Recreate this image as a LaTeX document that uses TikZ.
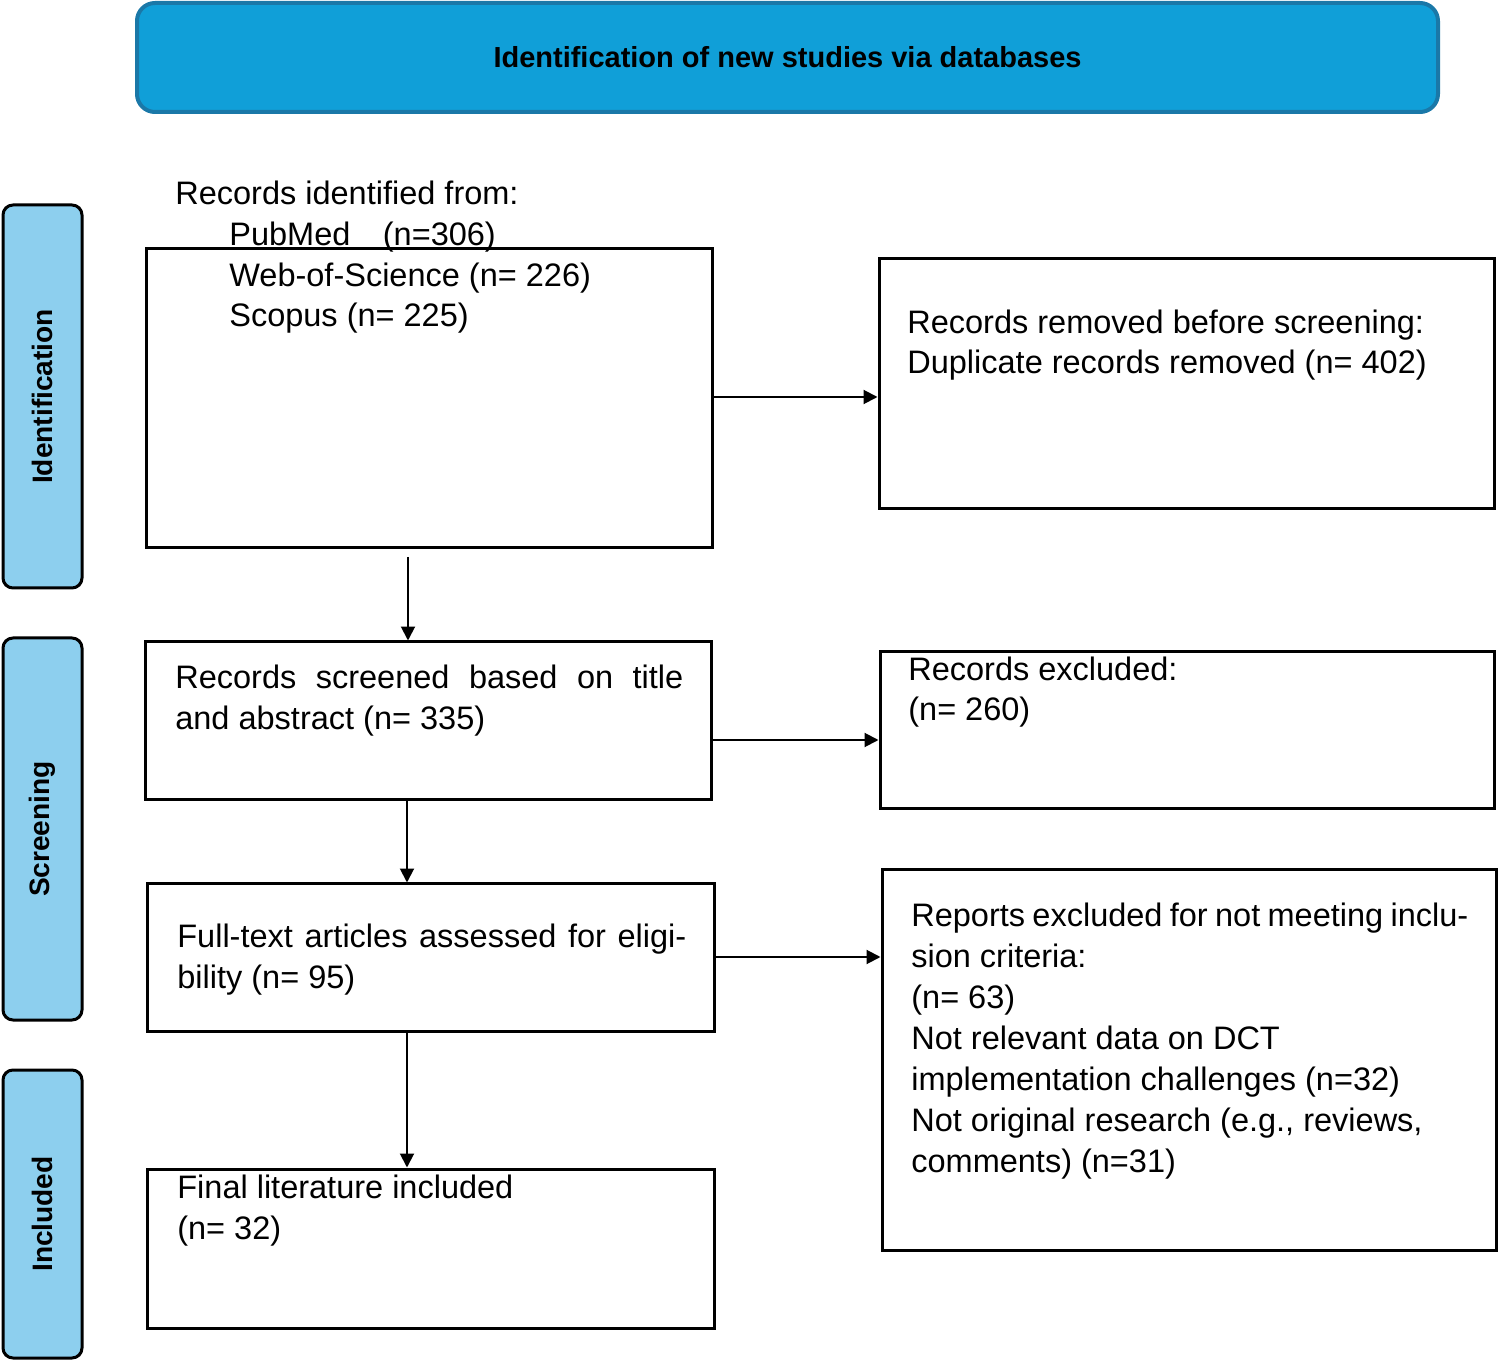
\documentclass[tikz,border=0pt]{standalone}
\usepackage{fontspec}
\setmainfont{Liberation Sans}
\usetikzlibrary{arrows.meta}
\newdimen\pxu \pxu=0.02cm
\definecolor{banner}{HTML}{109FD8}
\definecolor{bannerline}{HTML}{1A78A8}
\definecolor{side}{HTML}{8DCFEE}
\begin{document}
\begin{tikzpicture}[x=0.02cm,y=-0.02cm,
  box/.style={draw=black,line width=3\pxu,inner sep=0pt},
  txt/.style={anchor=base west,inner sep=0pt,font=\fontsize{18.5}{23.3}\selectfont},
  sidelab/.style={draw=black,fill=side,line width=3\pxu,rounded corners=10\pxu,minimum width=79\pxu,inner sep=0pt},
  sidetxt/.style={rotate=90,font=\fontsize{16}{19}\selectfont\bfseries},
  arr/.style={-{Triangle[length=0.28cm,width=0.28cm]},line width=0.04cm}]
\useasboundingbox (0,0) rectangle (1499,1361);
\node[draw=bannerline,fill=banner,line width=4\pxu,rounded corners=18\pxu,minimum width=1301\pxu,minimum height=109\pxu,inner sep=0pt,font=\fontsize{16.5}{20}\selectfont\bfseries] (T) at (787.5,57.5) {Identification of new studies via databases};
\node[sidelab,minimum height=383\pxu] (S1) at (42.5,396.5) {};
\node[sidetxt] (S1t) at (S1) {Identification};
\node[sidelab,minimum height=382\pxu] (S2) at (42.5,829) {};
\node[sidetxt] (S2t) at (S2) {Screening};
\node[sidelab,minimum height=288\pxu] (S3) at (42.5,1214) {};
\node[sidetxt] (S3t) at (S3) {Included};
\node[box,minimum width=566\pxu,minimum height=299\pxu] (A) at (429,398.5) {};
\node[box,minimum width=615\pxu,minimum height=250\pxu] (B) at (1186.5,384) {};
\node[box,minimum width=566\pxu,minimum height=158\pxu] (C) at (428,721) {};
\node[box,minimum width=614\pxu,minimum height=157\pxu] (D) at (1187,730.5) {};
\node[box,minimum width=567\pxu,minimum height=147\pxu] (E) at (430.5,957.5) {};
\node[box,minimum width=614\pxu,minimum height=380\pxu] (F) at (1189,1060) {};
\node[box,minimum width=567\pxu,minimum height=159\pxu] (G) at (430.5,1248.5) {};
\node[txt,align=left] (At) at (175,327) {Records identified from:\\\hspace*{54\pxu}PubMed\quad(n=306)\\\hspace*{54\pxu}Web-of-Science (n= 226)\\\hspace*{54\pxu}Scopus (n= 225)};
\node[txt,align=left] (Bt) at (907,374) {Records removed before screening:\\Duplicate records removed (n= 402)};
\node[txt,align=justify,text width=508\pxu] (Ct) at (175,689) {Records screened based on title and abstract (n= 335)};
\node[txt,align=left] (Dt) at (908,721) {Records excluded:\\(n= 260)};
\node[txt,align=justify,text width=509\pxu] (Et) at (177,948) {Full-text articles assessed for eligibility (n= 95)};
\node[txt,align=justify,text width=557\pxu] (Ft) at (911,927) {Reports excluded for not meeting inclusion criteria:\\(n= 63)\\Not relevant data on DCT\\implementation challenges (n=32)\\Not original research (e.g., reviews,\\comments) (n=31)};
\node[txt,align=left] (Gt) at (177,1239) {Final literature included\\(n= 32)};
\coordinate (x408) at (408,0);
\coordinate (x407) at (407,0);
\coordinate (y397) at (0,397);
\coordinate (y740) at (0,740);
\coordinate (y957) at (0,957);
\coordinate (a1) at (408,557);
\draw[arr] (a1) -- (C.north -| x408);
\draw[arr] (A.east |- y397) -- (B.west |- y397);
\draw[arr] (C.east |- y740) -- (D.west |- y740);
\draw[arr] (C.south -| x407) -- (E.north -| x407);
\draw[arr] (E.east |- y957) -- (F.west |- y957);
\draw[arr] (E.south -| x407) -- (G.north -| x407);
\end{tikzpicture}
\end{document}
